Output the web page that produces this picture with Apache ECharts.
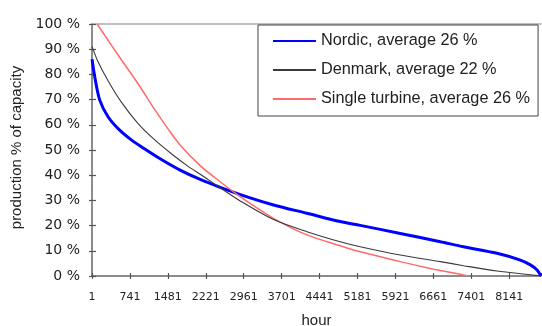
<!DOCTYPE html>
<html>
<head>
<meta charset="utf-8">
<script src="https://cdn.jsdelivr.net/npm/echarts@6/dist/echarts.min.js"></script>
<style>html,body{margin:0;padding:0;background:#fff}#c{width:542px;height:326px}</style>
</head>
<body>
<div id="c"></div>
<script>
// Duration curves: hour of year (sorted) vs production % of capacity
const nordicHours = [1, 54, 151, 313, 509, 768, 1000, 1329, 1719, 2110, 2500, 3086, 3541, 4193, 4843, 5233, 6014, 6795, 7250, 7902, 8357, 8553, 8683, 8760];
const nordicValues = [86, 79, 69.8, 63.2, 58.5, 54, 50.8, 46.5, 42, 38.3, 35.2, 31, 28.2, 24.9, 21.6, 20.1, 16.9, 13.6, 11.6, 9, 6.3, 4.4, 2.4, 0];

const denmarkHours = [1, 118, 313, 573, 899, 1225, 1549, 1875, 2201, 2500, 2890, 3541, 4193, 4843, 5233, 6014, 6795, 7250, 7902, 8553, 8760];
const denmarkValues = [91, 85, 77.5, 69, 60.5, 54, 48.5, 43.5, 39.2, 35, 29.8, 22.4, 17.6, 13.6, 11.6, 8.3, 5.7, 4.1, 2, 0.5, 0];

const turbineHours = [100, 573, 899, 1225, 1480, 1719, 2110, 2500, 2890, 3541, 4193, 4843, 5233, 6014, 6600, 6926, 7250, 7342];
const turbineValues = [100, 85.8, 76.3, 66, 58.5, 52, 43.8, 37.4, 31.5, 22.9, 16.3, 12, 9.6, 5.7, 3, 1.7, 0.4, 0];

const seriesNames = ['Nordic, average 26 %', 'Denmark, average 22 %', 'Single turbine, average 26 %'];
const yTicks = [0, 10, 20, 30, 40, 50, 60, 70, 80, 90, 100];
const xTickStep = 740;

const zip = (xs, ys) => xs.map((x, i) => [x, ys[i]]);

const chart = echarts.init(document.getElementById('c'), null, {renderer: 'canvas'});
const xBase = {type: 'value', min: 0, max: 8760, interval: xTickStep, splitLine: {show: false}};
const yBase = {type: 'value', min: yTicks[0], max: yTicks[yTicks.length - 1], interval: 10, splitLine: {show: false}};
chart.setOption({
  animation: false,
  grid: {left: 92, right: 1, top: 24, bottom: 50, containLabel: false, outerBoundsMode: 'none'},
  xAxis: [
    Object.assign({}, xBase, {
      position: 'bottom',
      axisLine: {show: true, lineStyle: {color: '#666', width: 1.5}},
      axisTick: {show: true, inside: false, length: 3, lineStyle: {color: '#555', width: 1.2}},
      axisLabel: {show: true, margin: 16, showMaxLabel: false, color: '#222', fontFamily: 'DejaVu Sans', fontSize: 11,
        formatter: v => String(v + 1)},
      name: 'hour', nameLocation: 'middle', nameGap: 37,
      nameTextStyle: {fontFamily: 'Liberation Sans', fontSize: 15, color: '#222'}
    }),
    Object.assign({}, xBase, {
      position: 'bottom',
      axisLine: {show: false},
      axisTick: {show: true, inside: true, length: 3, lineStyle: {color: '#555', width: 1.2}},
      axisLabel: {show: false}
    }),
    Object.assign({}, xBase, {
      position: 'top',
      axisLine: {show: true, lineStyle: {color: '#aaa', width: 1.5}},
      axisTick: {show: false},
      axisLabel: {show: false}
    })
  ],
  yAxis: [
    Object.assign({}, yBase, {
      position: 'left',
      axisLine: {show: true, lineStyle: {color: '#666', width: 1.5}},
      axisTick: {show: true, inside: false, length: 3, lineStyle: {color: '#555', width: 1.2}},
      axisLabel: {show: true, margin: 12, color: '#222', fontFamily: 'DejaVu Sans', fontSize: 14,
        formatter: v => v + ' %'},
      name: 'production % of capacity', nameLocation: 'middle', nameGap: 62, nameRotate: 90,
      nameTextStyle: {fontFamily: 'Liberation Sans', fontSize: 15, color: '#222', padding: [0, 0, 0, 5]}
    }),
    Object.assign({}, yBase, {
      position: 'left',
      axisLine: {show: false},
      axisTick: {show: true, inside: true, length: 4, lineStyle: {color: '#555', width: 1.2}},
      axisLabel: {show: false}
    })
  ],
  legend: {
    orient: 'vertical', left: 258, top: 25,
    data: seriesNames,
    backgroundColor: '#fff', borderColor: '#444', borderWidth: 1,
    padding: [6, 8, 7, 14],
    itemWidth: 43, itemHeight: 14, itemGap: 9, itemTextGap: 4,
    itemStyle: {opacity: 0},
    textStyle: {fontFamily: 'Liberation Sans', fontSize: 16.3, color: '#222', lineHeight: 20},
    selectedMode: false
  },
  series: [
    {name: seriesNames[2], type: 'line', symbol: 'none', xAxisIndex: 0, yAxisIndex: 0, smooth: 0.3,
      data: zip(turbineHours, turbineValues), lineStyle: {color: '#ff6a6a', width: 1.5}, itemStyle: {color: '#ff6a6a'}, z: 3},
    {name: seriesNames[1], type: 'line', symbol: 'none', xAxisIndex: 0, yAxisIndex: 0, smooth: 0.3,
      data: zip(denmarkHours, denmarkValues), lineStyle: {color: '#3a3a3a', width: 1.1}, itemStyle: {color: '#3a3a3a'}, z: 4},
    {name: seriesNames[0], type: 'line', symbol: 'none', xAxisIndex: 0, yAxisIndex: 0, smooth: 0.3,
      data: zip(nordicHours, nordicValues), lineStyle: {color: '#0000ff', width: 3}, itemStyle: {color: '#0000ff'}, z: 2}
  ]
});
</script>
</body>
</html>
